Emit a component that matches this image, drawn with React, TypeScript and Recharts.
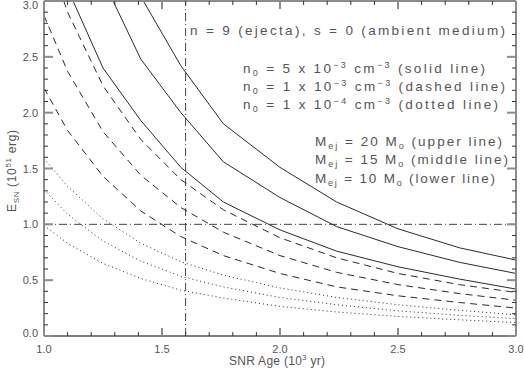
import { ComposedChart, Line, XAxis, YAxis, ReferenceLine } from 'recharts'

// SNR age grid (10^3 yr)
const AGE = [1.0, 1.1, 1.25, 1.41, 1.58, 1.76, 2.0, 2.24, 2.5, 2.76, 3.0]

// n0 = 5e-3 cm^-3 (solid), Mej = 20 / 15 / 10
const SOLID_20 = [6.04, 4.99, 3.87, 3.04, 2.42, 1.9, 1.51, 1.2, 0.96, 0.79, 0.68]
const SOLID_15 = [4.99, 4.13, 3.19, 2.48, 2.0, 1.56, 1.24, 0.98, 0.8, 0.66, 0.56]
const SOLID_10 = [3.76, 3.11, 2.4, 1.93, 1.51, 1.2, 0.95, 0.76, 0.62, 0.51, 0.42]

// n0 = 1e-3 cm^-3 (dashed)
const DASH_20 = [3.51, 2.9, 2.24, 1.76, 1.4, 1.13, 0.88, 0.7, 0.56, 0.46, 0.39]
const DASH_15 = [2.87, 2.37, 1.83, 1.44, 1.15, 0.93, 0.72, 0.57, 0.46, 0.38, 0.32]
const DASH_10 = [2.22, 1.84, 1.43, 1.12, 0.89, 0.72, 0.56, 0.44, 0.36, 0.3, 0.25]

// n0 = 1e-4 cm^-3 (dotted)
const DOT_20 = [1.59, 1.34, 1.05, 0.83, 0.665, 0.545, 0.43, 0.345, 0.28, 0.23, 0.19]
const DOT_15 = [1.31, 1.09, 0.85, 0.67, 0.535, 0.44, 0.345, 0.28, 0.225, 0.185, 0.155]
const DOT_10 = [0.99, 0.83, 0.65, 0.515, 0.41, 0.34, 0.265, 0.215, 0.175, 0.145, 0.12]

const X_TICKS = [1.0, 1.1, 1.2, 1.3, 1.4, 1.5, 1.6, 1.7, 1.8, 1.9, 2.0, 2.1, 2.2, 2.3, 2.4, 2.5, 2.6, 2.7, 2.8, 2.9, 3.0]
const Y_TICKS = [0.0, 0.1, 0.2, 0.3, 0.4, 0.5, 0.6, 0.7, 0.8, 0.9, 1.0, 1.1, 1.2, 1.3, 1.4, 1.5, 1.6, 1.7, 1.8, 1.9, 2.0,
  2.1, 2.2, 2.3, 2.4, 2.5, 2.6, 2.7, 2.8, 2.9, 3.0]

const X_MIN = 1
const X_MAX = 3
const Y_MIN = 0
const Y_MAX = 3
const AGE_MARK = 1.6
const ENERGY_MARK = 1.0

const data = AGE.map((age, i) => ({
  age,
  s20: SOLID_20[i], s15: SOLID_15[i], s10: SOLID_10[i],
  d20: DASH_20[i], d15: DASH_15[i], d10: DASH_10[i],
  p20: DOT_20[i], p15: DOT_15[i], p10: DOT_10[i],
}))

const W = 524
const H = 371
const MARGIN = { top: 1, right: 8, bottom: 0, left: 0 }
const Y_AXIS_W = 44
const X_AXIS_H = 35

// plot box, from the margins and axis sizes above
const PL = MARGIN.left + Y_AXIS_W
const PR = W - MARGIN.right
const PT = MARGIN.top
const PB = H - MARGIN.bottom - X_AXIS_H
const px = (v: number) => PL + ((v - X_MIN) / (X_MAX - X_MIN)) * (PR - PL)
const py = (v: number) => PB - ((v - Y_MIN) / (Y_MAX - Y_MIN)) * (PB - PT)

const FONT = "'Liberation Sans', Arial, sans-serif"
const TEXT = '#555'
const INK = '#2a2a2a'
const FRAME = '#8c8c8c'
const MINOR = '#333'

const isMajor = (v: number) => Math.abs(v * 2 - Math.round(v * 2)) < 1e-6
const tickStroke = (v: number) => (isMajor(v) ? { stroke: FRAME, strokeWidth: 2 } : { stroke: MINOR, strokeWidth: 1 })

function BottomLabel({ x, y, payload }: any) {
  if (!isMajor(payload.value)) return <g />
  return (
    <text x={x} y={y + 17} textAnchor="middle" fontSize={11} fontFamily={FONT} fill={TEXT}>
      {payload.value.toFixed(1)}
    </text>
  )
}

function LeftLabel({ x, y, payload }: any) {
  if (!isMajor(payload.value)) return <g />
  const base = Math.min(Math.max(y + 4, 9), 337)
  return (
    <text x={x - 6} y={base} textAnchor="end" fontSize={11} fontFamily={FONT} fill={TEXT}>
      {payload.value.toFixed(1)}
    </text>
  )
}

function Frame() {
  return (
    <g>
      <line x1={PL} x2={PR} y1={PT} y2={PT} stroke={FRAME} strokeWidth={2} />
      <line x1={PR} x2={PR} y1={PT} y2={PB} stroke={FRAME} strokeWidth={2} />
      {X_TICKS.map((v) => {
        const len = isMajor(v) ? 8 : 4
        return (
          <g key={`x${v}`}>
            <line x1={px(v)} x2={px(v)} y1={PB} y2={PB - len} {...tickStroke(v)} />
            <line x1={px(v)} x2={px(v)} y1={PT} y2={PT + len} {...tickStroke(v)} />
          </g>
        )
      })}
      {Y_TICKS.map((v) => {
        const len = isMajor(v) ? 9 : 4
        return (
          <g key={`y${v}`}>
            <line x1={PL} x2={PL + len} y1={py(v)} y2={py(v)} {...tickStroke(v)} />
            <line x1={PR} x2={PR - len} y1={py(v)} y2={py(v)} {...tickStroke(v)} />
          </g>
        )
      })}
    </g>
  )
}

function Annotations() {
  const common = { fontFamily: FONT, fontSize: 13.5, fill: TEXT, lengthAdjust: 'spacing' as const }
  return (
    <svg width={W} height={H} style={{ position: 'absolute', left: 0, top: 0, pointerEvents: 'none' }}>
      <Frame />
      <text x={190} y={35} textLength={315} {...common}>n = 9 (ejecta), s = 0 (ambient medium)</text>
      <text x={243} y={73} textLength={242} {...common}>
        n<tspan dy={3} fontSize={9}>0</tspan><tspan dy={-3}> = 5 x 10</tspan>
        <tspan dy={-5} fontSize={9}>−3</tspan><tspan dy={5}> cm</tspan>
        <tspan dy={-5} fontSize={9}>−3</tspan><tspan dy={5}> (solid line)</tspan>
      </text>
      <text x={243} y={91} textLength={262} {...common}>
        n<tspan dy={3} fontSize={9}>0</tspan><tspan dy={-3}> = 1 x 10</tspan>
        <tspan dy={-5} fontSize={9}>−3</tspan><tspan dy={5}> cm</tspan>
        <tspan dy={-5} fontSize={9}>−3</tspan><tspan dy={5}> (dashed line)</tspan>
      </text>
      <text x={243} y={109} textLength={255} {...common}>
        n<tspan dy={3} fontSize={9}>0</tspan><tspan dy={-3}> = 1 x 10</tspan>
        <tspan dy={-5} fontSize={9}>−4</tspan><tspan dy={5}> cm</tspan>
        <tspan dy={-5} fontSize={9}>−3</tspan><tspan dy={5}> (dotted line)</tspan>
      </text>
      <text x={315} y={146} textLength={187} {...common}>
        M<tspan dy={3} fontSize={9}>ej</tspan><tspan dy={-3}> = 20 M</tspan>
        <tspan dy={3} fontSize={9}>o</tspan><tspan dy={-3}> (upper line)</tspan>
      </text>
      <text x={315} y={164} textLength={193} {...common}>
        M<tspan dy={3} fontSize={9}>ej</tspan><tspan dy={-3}> = 15 M</tspan>
        <tspan dy={3} fontSize={9}>o</tspan><tspan dy={-3}> (middle line)</tspan>
      </text>
      <text x={315} y={183} textLength={180} {...common}>
        M<tspan dy={3} fontSize={9}>ej</tspan><tspan dy={-3}> = 10 M</tspan>
        <tspan dy={3} fontSize={9}>o</tspan><tspan dy={-3}> (lower line)</tspan>
      </text>
      <text x={229} y={365} textLength={96} fontFamily={FONT} fontSize={12} fill={TEXT} lengthAdjust="spacing">
        SNR Age (10<tspan dy={-5} fontSize={8}>3</tspan><tspan dy={5}> yr)</tspan>
      </text>
      <text transform="translate(16,212) rotate(-90)" textLength={82} fontFamily={FONT} fontSize={12} fill={TEXT} lengthAdjust="spacing">
        E<tspan dy={3} fontSize={8}>SN</tspan><tspan dy={-3}> (10</tspan>
        <tspan dy={-5} fontSize={8}>51</tspan><tspan dy={5}> erg)</tspan>
      </text>
    </svg>
  )
}

export default function App() {
  return (
    <div style={{ position: 'absolute', left: 0, top: 0, width: W, height: H, background: '#fff' }}>
      <ComposedChart width={W} height={H} data={data} margin={MARGIN}>
        <XAxis
          dataKey="age"
          type="number"
          domain={[X_MIN, X_MAX]}
          ticks={X_TICKS}
          height={X_AXIS_H}
          tickSize={0}
          tickMargin={0}
          tickLine={false}
          axisLine={{ stroke: '#555', strokeWidth: 1.5 }}
          tick={<BottomLabel />}
          interval={0}
        />
        <YAxis
          type="number"
          domain={[Y_MIN, Y_MAX]}
          ticks={Y_TICKS}
          width={Y_AXIS_W}
          allowDataOverflow
          tickSize={0}
          tickMargin={0}
          tickLine={false}
          axisLine={{ stroke: FRAME, strokeWidth: 2 }}
          tick={<LeftLabel />}
          interval={0}
        />
        <ReferenceLine x={AGE_MARK} stroke="#444" strokeDasharray="8 3 1 3" />
        <ReferenceLine y={ENERGY_MARK} stroke="#444" strokeDasharray="8 3 1 3" />
        <Line type="linear" dataKey="s20" stroke={INK} strokeWidth={1} dot={false} isAnimationActive={false} />
        <Line type="linear" dataKey="s15" stroke={INK} strokeWidth={1} dot={false} isAnimationActive={false} />
        <Line type="linear" dataKey="s10" stroke={INK} strokeWidth={1} dot={false} isAnimationActive={false} />
        <Line type="linear" dataKey="d20" stroke={INK} strokeWidth={1} strokeDasharray="7 5" dot={false} isAnimationActive={false} />
        <Line type="linear" dataKey="d15" stroke={INK} strokeWidth={1} strokeDasharray="7 5" dot={false} isAnimationActive={false} />
        <Line type="linear" dataKey="d10" stroke={INK} strokeWidth={1} strokeDasharray="7 5" dot={false} isAnimationActive={false} />
        <Line type="linear" dataKey="p20" stroke={INK} strokeWidth={1} strokeDasharray="1 3" dot={false} isAnimationActive={false} />
        <Line type="linear" dataKey="p15" stroke={INK} strokeWidth={1} strokeDasharray="1 3" dot={false} isAnimationActive={false} />
        <Line type="linear" dataKey="p10" stroke={INK} strokeWidth={1} strokeDasharray="1 3" dot={false} isAnimationActive={false} />
      </ComposedChart>
      <Annotations />
    </div>
  )
}
